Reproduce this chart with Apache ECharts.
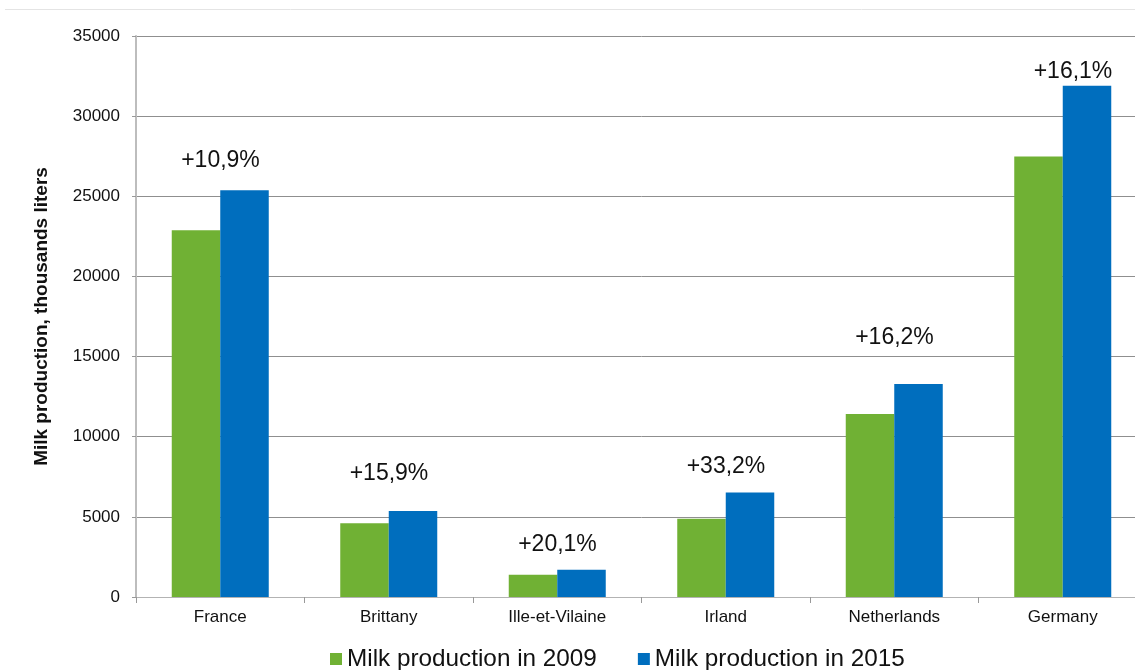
<!DOCTYPE html>
<html>
<head>
<meta charset="utf-8">
<script src="https://cdn.jsdelivr.net/npm/echarts@6/dist/echarts.min.js"></script>
<style>
  html, body { margin: 0; padding: 0; background: #fff; overflow: hidden; }
  /* the plot runs a little past the right edge of the picture */
  #chart { width: 1147px; height: 670px; }
</style>
</head>
<body>
<div id="chart"></div>
<script>
// data
const regions = ["France", "Brittany", "Ille-et-Vilaine", "Irland", "Netherlands", "Germany"];
const milk2009 = [22880, 4600, 1390, 4880, 11420, 27480];
const milk2015 = [25380, 5370, 1700, 6520, 13290, 31900];
const growth = ["+10,9%", "+15,9%", "+20,1%", "+33,2%", "+16,2%", "+16,1%"];
const yTicks = { min: 0, max: 35000, interval: 5000 };

// where each growth label sits above the blue bar (px, style only)
const labelShift = [[-24, -13], [-24, -21], [-24, -9], [-24, -9], [-24, -30], [-14, 2]];

const chart = echarts.init(document.getElementById("chart"));
const font = "Liberation Sans, Arial, sans-serif";

const option = {
  animation: false,
  textStyle: { fontFamily: font },
  grid: { left: 136, right: 0, top: 36, bottom: 73, containLabel: false },
  graphic: [{
    type: "line",
    shape: { x1: 5, y1: 9.5, x2: 1147, y2: 9.5 },
    style: { stroke: "#e4e4e4", lineWidth: 1 }
  }],
  legend: {
    left: 330, top: 647,
    padding: 0,
    itemWidth: 12, itemHeight: 12, itemGap: 41,
    icon: "rect",
    textStyle: { fontSize: 24.3, color: "#111" },
    data: ["Milk production in 2009", "Milk production in 2015"]
  },
  xAxis: {
    type: "category",
    data: regions,
    axisLine: { lineStyle: { color: "#b3b3b3", width: 1 } },
    axisTick: { show: true, length: 6, lineStyle: { color: "#999" } },
    axisLabel: { fontSize: 17, color: "#111", margin: 12 }
  },
  yAxis: {
    type: "value",
    min: yTicks.min, max: yTicks.max, interval: yTicks.interval,
    name: "Milk production, thousands liters",
    nameLocation: "middle",
    nameGap: 85,
    nameTextStyle: { fontSize: 19, fontWeight: "bold", color: "#111" },
    axisLine: { show: true, lineStyle: { color: "#bdbdbd", width: 2 } },
    axisTick: { show: true, length: 4, lineStyle: { color: "#999" } },
    axisLabel: { fontSize: 17, color: "#111", margin: 16, formatter: v => String(v) },
    splitLine: { lineStyle: { color: "#8f8f8f", width: 1 } }
  },
  series: [
    {
      name: "Milk production in 2009",
      type: "bar",
      barWidth: 48.5,
      barGap: "0%",
      itemStyle: { color: "#70b134" },
      data: milk2009
    },
    {
      name: "Milk production in 2015",
      type: "bar",
      barWidth: 48.5,
      itemStyle: { color: "#006ebe" },
      data: milk2015.map((v, i) => ({
        value: v,
        label: {
          show: true,
          position: "top",
          offset: labelShift[i],
          formatter: growth[i],
          fontSize: 23,
          color: "#111",
          fontFamily: font
        }
      }))
    }
  ]
};
chart.setOption(option);
</script>
</body>
</html>
